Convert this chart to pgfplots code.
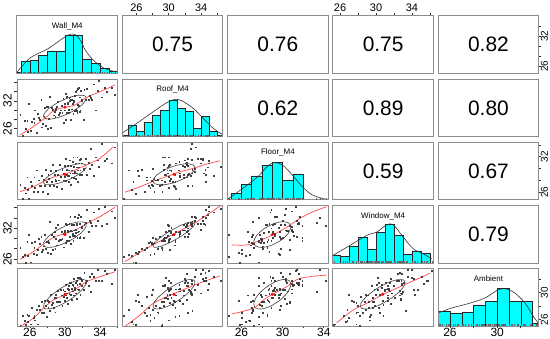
\documentclass[border=0pt]{standalone}
\usepackage{pgfplots}
\usepackage{pgfplotstable}
\usepackage{fontspec}
\setmainfont{Liberation Sans}
\pgfplotsset{compat=1.18}
\definecolor{framegray}{RGB}{140,140,140}
\definecolor{loesscol}{RGB}{255,70,70}
\definecolor{histcyan}{RGB}{0,255,255}

\pgfplotstableread{
Wall Roof Floor Window Ambient
24.9 29.1 27.2 28.2 25.1
25.2 24.4 24.8 26.4 26.6
25.4 27.7 26.8 26.8 25.8
25.5 25.9 25.8 25.3 25.2
25.7 27.7 28.5 29.4 26.7
25.8 25.4 26.4 26.6 25.7
25.9 31.3 24.8 30.8 26.6
26.1 25.6 27.7 25.4 25.3
26.2 27.5 27.0 29.2 27.8
26.4 28.2 26.0 27.0 26.3
26.5 27.3 28.5 28.2 26.6
26.6 30.0 26.7 29.3 25.9
26.8 25.1 29.7 26.8 27.5
26.9 29.2 26.0 27.8 25.3
27.0 28.4 28.0 29.9 28.0
27.1 28.0 27.1 28.9 27.5
27.3 32.3 27.0 30.4 27.0
27.4 26.3 28.7 27.5 28.6
27.5 27.0 26.0 27.8 27.0
27.6 28.7 28.1 28.5 27.0
27.7 30.6 27.1 30.7 28.8
27.8 26.7 29.8 28.0 28.0
27.9 30.8 27.7 29.3 26.4
28.0 25.9 25.7 27.3 28.8
28.1 30.8 28.9 29.6 27.8
28.2 28.2 28.2 29.2 28.7
28.3 32.9 27.1 33.3 27.3
28.4 26.2 29.6 27.0 29.7
28.5 30.5 27.8 30.8 28.2
28.6 30.1 30.7 27.8 28.5
28.7 28.9 27.0 30.3 27.8
28.8 29.6 29.0 31.3 29.3
28.9 28.6 28.1 28.0 27.1
28.95 30.1 27.9 30.0 29.7
29.0 30.3 29.6 32.1 29.2
29.1 30.7 26.9 28.7 28.6
29.2 31.8 29.0 32.6 30.3
29.3 29.1 28.0 29.6 28.7
29.4 29.4 30.7 29.8 28.6
29.5 30.0 28.6 29.8 30.4
29.6 30.9 26.6 31.3 29.6
29.7 29.4 29.8 29.9 28.0
29.8 32.5 29.1 31.0 30.4
29.9 27.3 28.0 28.3 29.4
29.95 30.0 30.5 31.5 30.2
30.0 31.4 28.6 31.3 28.8
30.05 33.6 31.6 32.9 31.2
30.1 27.9 27.9 29.1 29.6
30.2 32.9 29.8 32.7 29.9
30.25 29.5 28.9 29.6 29.2
30.3 31.4 28.7 31.3 30.6
30.35 31.7 30.4 31.6 28.3
30.4 29.5 27.7 29.5 31.0
30.45 30.1 29.7 31.4 30.4
30.5 32.7 28.7 32.9 29.8
30.55 32.0 31.4 30.3 31.4
30.6 32.8 29.2 34.3 29.7
30.65 27.9 27.2 28.9 29.7
30.7 32.3 30.4 31.5 31.4
30.75 30.2 29.7 31.4 30.6
30.8 32.2 28.5 32.7 28.9
30.85 31.3 31.1 30.6 31.2
30.9 31.4 29.2 31.0 30.2
30.95 29.3 31.9 29.5 31.0
31.0 31.8 28.4 32.6 29.6
31.05 32.0 30.3 31.6 32.0
31.1 33.2 29.4 34.2 30.4
31.15 29.9 29.2 30.6 30.7
31.2 33.9 30.9 31.7 29.9
31.25 30.2 28.2 31.1 31.4
31.3 29.9 30.2 32.7 29.1
31.35 34.3 29.2 32.8 31.7
31.4 29.5 31.9 30.1 31.2
31.45 31.2 29.7 31.2 30.5
31.5 34.6 27.7 34.0 32.2
31.55 30.9 30.9 31.4 30.5
31.6 34.8 30.2 34.6 30.4
31.65 29.6 29.0 30.2 32.2
31.7 32.8 31.5 32.9 31.3
31.75 29.8 29.7 30.4 29.7
31.8 34.2 31.7 34.2 32.0
31.9 32.3 28.9 32.0 31.0
31.95 32.1 30.9 32.3 31.8
32.1 28.0 30.0 30.2 30.4
32.2 34.5 29.8 32.6 32.9
32.4 32.3 31.6 33.1 31.4
32.5 34.6 28.9 35.6 31.7
32.7 32.2 31.0 31.3 31.0
32.8 33.2 30.0 33.5 32.4
32.9 32.7 33.3 33.0 30.1
33.1 32.2 30.7 32.4 32.8
33.3 35.6 28.8 35.1 32.3
33.5 30.0 31.9 32.4 31.7
33.7 34.2 31.4 33.5 33.4
33.9 36.4 30.3 35.7 31.7
34.2 32.8 34.2 32.5 31.8
34.5 34.9 31.3 36.2 33.3
34.8 33.9 31.6 32.9 32.8
35.3 34.9 30.9 35.3 31.3
35.7 33.3 33.6 34.0 33.4
}\data

\pgfplotsset{
  panel/.style={scale only axis, width=100.5bp, height=57.5bp, anchor=south west,
    axis line style={draw=framegray, line width=1bp}, axis on top,
    xtick=\empty, ytick=\empty, tick align=outside, major tick length=3bp,
    tick style={black!80, line width=0.6bp},
    /pgf/number format/assume math mode=true, clip=true},
  xW/.style={xmin=24.54,xmax=36.0}, yW/.style={ymin=24.54,ymax=36.0},
  xR/.style={xmin=24.26,xmax=36.68}, yR/.style={ymin=24.26,ymax=36.68},
  xF/.style={xmin=24.66,xmax=34.42}, yF/.style={ymin=24.66,ymax=34.42},
  xN/.style={xmin=25.21,xmax=36.38}, yN/.style={ymin=25.21,ymax=36.38},
  xA/.style={xmin=25.0,xmax=33.52}, yA/.style={ymin=25.0,ymax=33.52},
  yH/.style={ymin=0,ymax=57.5},
  xU/.style={xmin=0,xmax=1}, yU/.style={ymin=0,ymax=1},
  pts/.style={only marks, mark=square*, mark size=0.42bp, black!75, mark options={draw=none}},
  lo/.style={smooth, loesscol, line width=0.7bp, no marks},
  el/.style={smooth, black!75, line width=0.6bp, no marks},
  mn/.style={only marks, mark=*, mark size=1.3bp, red, mark options={draw=none}},
  hb/.style={ybar interval, fill=histcyan, draw=black!85, line width=0.4bp},
  dn/.style={smooth, black!80, line width=0.6bp, no marks},
  rug/.style={only marks, mark=|, mark size=0.9bp, black!60, mark options={line width=0.25bp}},
  bottomticks/.style={xtick pos=left, xticklabel pos=left, major tick length=2bp,
    xticklabel style={font=\fontsize{12}{12}\selectfont, inner sep=0bp}},
  topticks/.style={xtick pos=right, xticklabel pos=right,
    xticklabel style={font=\fontsize{11}{11}\selectfont, inner sep=1bp}},
  leftticks/.style={ytick pos=left, yticklabel pos=left,
    yticklabel style={rotate=90, anchor=south, font=\fontsize{12}{12}\selectfont, inner sep=2bp}},
  rightticks/.style={ytick pos=right, yticklabel pos=right, major tick length=2bp,
    yticklabel style={rotate=90, anchor=north, font=\fontsize{10}{10}\selectfont, inner sep=0bp}},
}
\newcommand{\corr}[1]{\node at (rel axis cs:0.5,0.5) {\fontsize{21}{21}\selectfont #1};}
\newcommand{\dlab}[1]{\node at (rel axis cs:0.5,0.82) {\fontsize{8}{8}\selectfont #1};}

\begin{document}
\begin{tikzpicture}
\useasboundingbox (0,0) rectangle (550bp,339bp);

% ---------------- Row 1 ----------------
\begin{axis}[panel, at={(17bp,265.5bp)}, xW, yH]
\addplot[hb] coordinates {(24,1) (25,12) (26,13.3) (27,18.3) (28,22.7) (29,22.7) (30,38.3) (31,38.3) (32,14.3) (33,10) (34,5.3) (35,2.7) (36,0)};
\addplot[dn] coordinates {(24.57,1.7) (26.10,16) (27.99,24.3) (29.90,36) (30.66,39.3) (31.23,38.7) (31.80,32.7) (32.37,22.7) (33.32,12.7) (34.46,5.3) (35.79,1.7)};
\addplot[rug] table[x=Wall, y expr=1.0] {\data};
\dlab{Wall\_M4}
\end{axis}
\begin{axis}[panel, at={(122.3bp,265.5bp)}, xR, yU, topticks, xtick={26,28,30,32,34,36}, xticklabels={26,,30,,34,}]
\corr{0.75}
\end{axis}
\begin{axis}[panel, at={(227.6bp,265.5bp)}, xU, yU]
\corr{0.76}
\end{axis}
\begin{axis}[panel, at={(332.9bp,265.5bp)}, xN, yU, topticks, xtick={26,28,30,32,34,36}, xticklabels={26,,30,,34,}]
\corr{0.75}
\end{axis}
\begin{axis}[panel, at={(438.2bp,265.5bp)}, xU, yW, rightticks, ytick={26,28,30,32,34}, yticklabels={26,,,32,}]
\corr{0.82}
\end{axis}

% ---------------- Row 2 ----------------
\begin{axis}[panel, at={(17bp,202.3bp)}, xW, yR, leftticks, ytick={26,28,30,32,34,36}, yticklabels={26,,,32,,}]
\addplot[pts] table[x=Wall, y=Roof] {\data};
\addplot[el] coordinates {(29.13,31.57) (28.10,30.23) (27.58,29.00) (27.71,28.22) (28.45,28.08) (29.60,28.64) (30.87,29.73) (31.90,31.07) (32.42,32.30) (32.29,33.08) (31.55,33.22) (30.40,32.66) (29.13,31.57)};
\addplot[lo] coordinates {(24.88,24.63) (26.40,26.42) (27.93,28.58) (28.87,30.03) (30.01,30.61) (31.15,31.11) (32.49,32.77) (34.0,33.98) (35.71,35.43)};
\addplot[mn] coordinates {(30.0,30.65)};
\end{axis}
\begin{axis}[panel, at={(122.3bp,202.3bp)}, xR, yH]
\addplot[hb] coordinates {(24,1.7) (25,11.7) (26,5) (27,14) (28,21) (29,26) (30,36.7) (31,28.3) (32,25.7) (33,8.3) (34,20) (35,5) (36,1.7) (37,0)};
\addplot[dn] coordinates {(24.31,4) (26.04,13.3) (28.09,25) (29.75,34) (30.77,37.3) (31.6,36) (33.03,28.3) (34.27,18.3) (35.51,8.3) (36.55,2.7)};
\addplot[rug] table[x=Roof, y expr=1.0] {\data};
\dlab{Roof\_M4}
\end{axis}
\begin{axis}[panel, at={(227.6bp,202.3bp)}, xU, yU]
\corr{0.62}
\end{axis}
\begin{axis}[panel, at={(332.9bp,202.3bp)}, xU, yU]
\corr{0.89}
\end{axis}
\begin{axis}[panel, at={(438.2bp,202.3bp)}, xU, yU]
\corr{0.80}
\end{axis}

% ---------------- Row 3 ----------------
\begin{axis}[panel, at={(17bp,139.1bp)}, xW, yF]
\addplot[pts] table[x=Wall, y=Floor] {\data};
\addplot[el] coordinates {(29.15,29.62) (28.12,28.70) (27.58,27.85) (27.70,27.31) (28.43,27.23) (29.59,27.62) (30.85,28.38) (31.88,29.30) (32.42,30.15) (32.30,30.69) (31.57,30.78) (30.41,30.38) (29.15,29.62)};
\addplot[lo] coordinates {(24.88,26.05) (26.40,26.90) (27.93,28.04) (29.07,28.72) (30.01,29.00) (31.35,29.85) (32.86,30.87) (34.0,31.72) (35.52,33.69)};
\addplot[mn] coordinates {(30.0,29.0)};
\end{axis}
\begin{axis}[panel, at={(122.3bp,139.1bp)}, xR, yF]
\addplot[pts] table[x=Roof, y=Floor] {\data};
\addplot[el] coordinates {(29.52,29.79) (28.50,28.87) (28.06,27.99) (28.31,27.38) (29.19,27.21) (30.46,27.51) (31.78,28.22) (32.80,29.13) (33.24,30.01) (32.99,30.62) (32.11,30.80) (30.84,30.49) (29.52,29.79)};
\addplot[lo] coordinates {(24.59,25.95) (26.45,26.90) (28.51,28.04) (30.56,29.00) (31.39,29.45) (33.04,30.02) (34.69,30.75) (36.34,31.31)};
\addplot[mn] coordinates {(30.65,29.0)};
\end{axis}
\begin{axis}[panel, at={(227.6bp,139.1bp)}, xF, yH]
\addplot[hb] coordinates {(24,0) (25,6.7) (26,15.7) (27,24) (28,35) (29,37.7) (30,19.3) (31,26) (32,0) (33,1) (34,1) (35,0)};
\addplot[dn] coordinates {(24.66,0.7) (25.93,10) (27.54,22.7) (28.51,33.3) (29.17,37.3) (29.97,35) (30.94,25) (31.91,13.3) (32.88,5) (34.17,0.7)};
\addplot[rug] table[x=Floor, y expr=1.0] {\data};
\dlab{Floor\_M4}
\end{axis}
\begin{axis}[panel, at={(332.9bp,139.1bp)}, xU, yU]
\corr{0.59}
\end{axis}
\begin{axis}[panel, at={(438.2bp,139.1bp)}, xU, yF, rightticks, ytick={26,28,30,32,34}, yticklabels={26,,,32,}]
\corr{0.67}
\end{axis}

% ---------------- Row 4 ----------------
\begin{axis}[panel, at={(17bp,75.9bp)}, xW, yN, leftticks, ytick={26,28,30,32,34,36}, yticklabels={26,,,32,,}]
\addplot[pts] table[x=Wall, y=Window] {\data};
\addplot[el] coordinates {(29.13,31.64) (28.10,30.35) (27.58,29.17) (27.71,28.41) (28.45,28.28) (29.60,28.82) (30.87,29.87) (31.90,31.16) (32.42,32.33) (32.29,33.09) (31.55,33.22) (30.40,32.69) (29.13,31.64)};
\addplot[lo] coordinates {(24.88,25.95) (26.40,27.43) (27.93,29.37) (29.07,30.48) (30.01,30.92) (31.35,31.78) (32.86,33.25) (34.0,34.23) (35.71,36.05)};
\addplot[mn] coordinates {(30.0,30.75)};
\end{axis}
\begin{axis}[panel, at={(122.3bp,75.9bp)}, xR, yN]
\addplot[pts] table[x=Roof, y=Window] {\data};
\addplot[el] coordinates {(30.04,31.34) (28.86,30.04) (28.16,28.94) (28.12,28.32) (28.77,28.35) (29.91,29.03) (31.26,30.16) (32.44,31.46) (33.14,32.56) (33.18,33.18) (32.54,33.15) (31.39,32.47) (30.04,31.34)};
\addplot[lo] coordinates {(24.59,25.48) (27.28,28.09) (30.56,30.81) (33.46,33.25) (36.34,36.3)};
\addplot[mn] coordinates {(30.65,30.75)};
\end{axis}
\begin{axis}[panel, at={(227.6bp,75.9bp)}, xF, yN]
\addplot[pts] table[x=Floor, y=Window] {\data};
\addplot[el] coordinates {(28.19,31.88) (27.49,30.62) (27.20,29.39) (27.39,28.52) (28.02,28.25) (28.90,28.66) (29.82,29.62) (30.51,30.89) (30.80,32.12) (30.61,32.98) (29.98,33.25) (29.10,32.85) (28.19,31.88)};
\addplot[lo] coordinates {(25.06,28.73) (26.51,28.73) (27.49,29.37) (29.04,30.67) (30.40,32.17) (31.69,33.91) (32.98,35.20) (34.28,36.17)};
\addplot[mn] coordinates {(29.0,30.75)};
\end{axis}
\begin{axis}[panel, at={(332.9bp,75.9bp)}, xN, yH]
\addplot[hb] coordinates {(25,8.3) (26,7) (27,16.7) (28,26) (29,13.7) (30,31) (31,38.7) (32,27.7) (33,9.3) (34,12.3) (35,10) (36,0)};
\addplot[dn] coordinates {(25.21,7.7) (27.11,17.7) (28.97,27.7) (30.08,31) (31.19,38.3) (31.92,38.3) (33.03,26) (34.14,14.3) (35.25,9.3) (36.19,4.3)};
\addplot[rug] table[x=Window, y expr=1.0] {\data};
\dlab{Window\_M4}
\end{axis}
\begin{axis}[panel, at={(438.2bp,75.9bp)}, xU, yU]
\corr{0.79}
\end{axis}

% ---------------- Row 5 ----------------
\begin{axis}[panel, at={(17bp,12.7bp)}, xW, yA, bottomticks, xtick={26,28,30,32,34,36}, xticklabels={26,,30,,34,}]
\addplot[pts] table[x=Wall, y=Ambient] {\data};
\addplot[el] coordinates {(29.27,30.41) (28.19,29.27) (27.61,28.26) (27.66,27.65) (28.34,27.60) (29.47,28.13) (30.74,29.09) (31.81,30.23) (32.39,31.24) (32.34,31.85) (31.66,31.90) (30.53,31.37) (29.27,30.41)};
\addplot[lo] coordinates {(24.9,25.0) (26.40,26.19) (27.54,27.67) (28.68,28.90) (30.01,29.64) (31.35,30.63) (32.49,31.61) (34.0,32.35) (35.71,33.09)};
\addplot[mn] coordinates {(30.0,29.75)};
\end{axis}
\begin{axis}[panel, at={(122.3bp,12.7bp)}, xR, yA]
\addplot[pts] table[x=Roof, y=Ambient] {\data};
\addplot[el] coordinates {(29.83,30.45) (28.71,29.31) (28.10,28.29) (28.18,27.66) (28.92,27.59) (30.13,28.10) (31.47,29.06) (32.60,30.19) (33.20,31.21) (33.12,31.84) (32.38,31.91) (31.17,31.40) (29.83,30.45)};
\addplot[lo] coordinates {(24.59,25.0) (26.45,26.67) (28.09,28.41) (30.56,29.79) (32.22,30.63) (34.27,31.61) (36.34,32.45)};
\addplot[mn] coordinates {(30.65,29.75)};
\end{axis}
\begin{axis}[panel, at={(227.6bp,12.7bp)}, xF, yA, bottomticks, xtick={26,28,30,32,34}, xticklabels={26,,30,,34}]
\addplot[pts] table[x=Floor, y=Ambient] {\data};
\addplot[el] coordinates {(28.27,30.64) (27.54,29.52) (27.21,28.46) (27.36,27.74) (27.94,27.56) (28.81,27.97) (29.73,28.86) (30.46,29.98) (30.79,31.04) (30.65,31.76) (30.06,31.94) (29.19,31.53) (28.27,30.64)};
\addplot[lo] coordinates {(25.06,26.82) (27.16,27.67) (28.13,28.90) (29.04,29.74) (30.40,30.87) (31.69,32.11) (34.28,32.60)};
\addplot[mn] coordinates {(29.0,29.75)};
\end{axis}
\begin{axis}[panel, at={(332.9bp,12.7bp)}, xN, yA]
\addplot[pts] table[x=Window, y=Ambient] {\data};
\addplot[el] coordinates {(29.94,30.46) (28.87,29.33) (28.30,28.31) (28.39,27.67) (29.11,27.59) (30.27,28.09) (31.56,29.04) (32.64,30.17) (33.20,31.20) (33.12,31.83) (32.39,31.91) (31.23,31.41) (29.94,30.46)};
\addplot[lo] coordinates {(25.63,25.53) (27.48,27.42) (28.97,28.41) (30.81,29.74) (32.67,30.87) (34.52,31.96) (35.99,32.85)};
\addplot[mn] coordinates {(30.75,29.75)};
\end{axis}
\begin{axis}[panel, at={(438.2bp,12.7bp)}, xA, yH]
\addplot[hb] coordinates {(25,15) (26,12.7) (27,14.3) (28,20.7) (29,25) (30,38.3) (31,25) (32,25) (33,3.3) (34,0)};
\addplot[dn] coordinates {(25.0,13.3) (26.14,18.3) (27.55,22.7) (28.97,28.3) (30.1,36.7) (30.8,37.3) (31.5,33.3) (32.36,23.3) (33.06,10) (33.48,3.3)};
\addplot[rug] table[x=Ambient, y expr=1.0] {\data};
\dlab{Ambient}
\end{axis}
\begin{axis}[panel, at={(438.2bp,12.7bp)}, xA, yA, axis line style={draw=none},
  bottomticks, xtick={26,28,30,32}, xticklabels={26,,30,},
  rightticks, ytick={26,28,30,32}, yticklabels={26,,30,}]
\end{axis}
\end{tikzpicture}
\end{document}
